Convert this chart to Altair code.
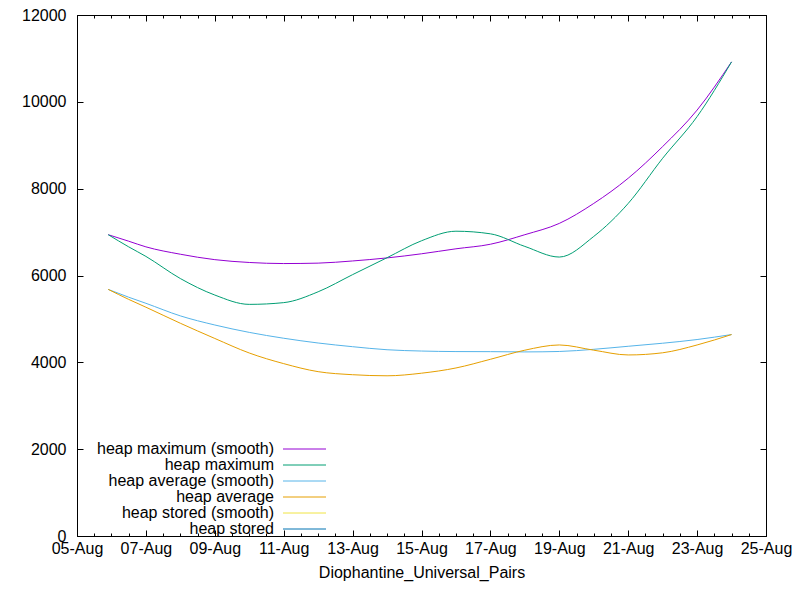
import altair as alt
import pandas as pd

# sample times (local) and values
dates = ["2021-08-05T21:45", "2021-08-06T12:00"] + [f"2021-08-{d:02d}T00:00" for d in range(7, 25)]

heap_max_smooth = [6940, 6790, 6660, 6490, 6365, 6300, 6275, 6285, 6335, 6405, 6500,
                   6615, 6720, 6940, 7200, 7660, 8240, 8970, 9810, 10920]
heap_max = [6940, 6660, 6440, 5930, 5550, 5335, 5375, 5625, 6020, 6410, 6800,
            7020, 6960, 6670, 6425, 6900, 7660, 8700, 9660, 10920]
heap_avg_smooth = [5680, 5500, 5360, 5070, 4860, 4690, 4555, 4445, 4360, 4290, 4260,
                   4248, 4246, 4240, 4250, 4300, 4370, 4440, 4525, 4640]
heap_avg = [5680, 5450, 5270, 4900, 4550, 4215, 3970, 3785, 3715, 3690, 3750,
            3870, 4070, 4280, 4400, 4280, 4170, 4220, 4400, 4640]

names = ["heap maximum (smooth)", "heap maximum", "heap average (smooth)",
         "heap average", "heap stored (smooth)", "heap stored"]
colors = ["#9400d3", "#009e73", "#56b4e9", "#e69f00", "#f0e442", "#0072b2"]

y_ticks = [0, 2000, 4000, 6000, 8000, 10000, 12000]

rows = []
for name, vals in zip(names, [heap_max_smooth, heap_max, heap_avg_smooth, heap_avg]):
    for d, v in zip(dates, vals):
        rows.append({"date": d, "value": v, "series": name})
df = pd.DataFrame(rows)

major = [alt.DateTime(year=2021, month=8, date=d) for d in range(5, 26, 2)]
minor = [alt.DateTime(year=2021, month=8, date=d, hours=h) for d in range(5, 25) for h in (0, 12)]
minor.append(alt.DateTime(year=2021, month=8, date=25))

xscale = alt.Scale(domain=[alt.DateTime(year=2021, month=8, date=5),
                           alt.DateTime(year=2021, month=8, date=25)])
yscale = alt.Scale(domain=[0, 12000], nice=False)

FONT = "Liberation Sans"
base = alt.Chart(df)

# legend sample: a short symbol for layout whose path runs 43px to the right
sample_path = "M-1,0H7.6"

lines = base.mark_line(interpolate="monotone", strokeWidth=1).encode(
    x=alt.X("date:T", scale=xscale,
            axis=alt.Axis(orient="bottom", values=major, format="%d-%b", ticks=False, tickSize=0,
                          domain=False, labelPadding=4, labelOverlap=False, labelFlush=False,
                          title="Diophantine_Universal_Pairs", titlePadding=8)),
    y=alt.Y("value:Q", scale=yscale,
            axis=alt.Axis(orient="left", values=y_ticks, format="d", ticks=False, tickSize=0,
                          domain=False, labelPadding=11, labelOverlap=False, labelFlush=False,
                          title=None)),
    color=alt.Color("series:N", scale=alt.Scale(domain=names, range=colors),
                    legend=alt.Legend(orient="none", legendX=203, legendY=426, title=None,
                                      symbolType=sample_path, symbolSize=100, symbolStrokeWidth=1,
                                      labelAlign="right", labelOffset={"expr": "-22"},
                                      rowPadding=0, padding=0,
                                      labelFontSize=16, labelFont=FONT,
                                      labelColor="#000000", labelLimit=400)),
)


def tick_layer(xorient, yorient, size, xvals, yvals):
    # invisible copy of the lines that only carries inward-pointing tick marks
    return base.mark_line(opacity=0).encode(
        x=alt.X("date:T", scale=xscale,
                axis=alt.Axis(orient=xorient, values=xvals, labels=False, domain=False,
                              tickSize=size, offset=-size, title=None, tickColor="#000000")),
        y=alt.Y("value:Q", scale=yscale,
                axis=alt.Axis(orient=yorient, values=yvals, labels=False, domain=False,
                              tickSize=size, offset=-size, title=None, tickColor="#000000")),
    )


chart = alt.layer(
    lines,
    tick_layer("bottom", "left", 6, major, y_ticks),
    tick_layer("top", "right", 6, major, y_ticks),
    tick_layer("bottom", "left", 3, minor, []),
    tick_layer("top", "right", 3, minor, []),
).resolve_axis(x="independent", y="independent").properties(
    width=689, height=521,
    autosize=alt.AutoSizeParams(type="none"),
    padding={"left": 69, "top": 7, "right": 26, "bottom": 50},
    background="#ffffff",
).configure_view(stroke="#000000", strokeWidth=1).configure_axis(
    grid=False, labelFont=FONT, labelFontSize=16, labelColor="#000000",
    titleFont=FONT, titleFontSize=16, titleFontWeight="normal", titleColor="#000000",
    tickWidth=1,
)

chart.save("out.html", embed_options={"renderer": "svg", "actions": False})
